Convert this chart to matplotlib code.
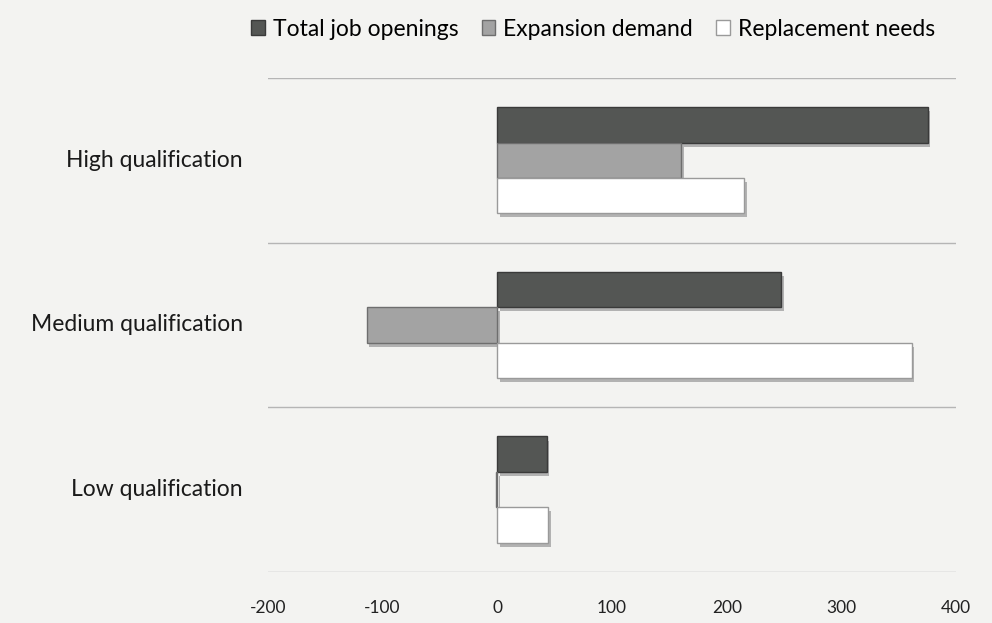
import numpy as np
import matplotlib
matplotlib.use("Agg")
import matplotlib.pyplot as plt
import matplotlib.patheffects as pe
from matplotlib.patches import Patch

categories = ["High qualification", "Medium qualification", "Low qualification"]
series = ["Total job openings", "Expansion demand", "Replacement needs"]
total_openings = [375, 247, 43]
expansion_demand = [160, -114, -1]
replacement_needs = [215, 361, 44]
x_ticks = [-200, -100, 0, 100, 200, 300, 400]

colors = ["#545654", "#a3a3a3", "#ffffff"]
edges = ["#3a3a3a", "#6e6e6e", "#9a9a9a"]
bg = "#f3f3f1"

plt.rcParams["font.family"] = ["Lato", "DejaVu Sans"]

fig = plt.figure(figsize=(9.92, 6.23), dpi=100, facecolor=bg)
ax = fig.add_axes([0.27, 0.082, 0.694, 0.793], facecolor=bg)

# categories from top to bottom
y = np.arange(len(categories))[::-1].astype(float)
h = 0.215
values = [total_openings, expansion_demand, replacement_needs]
offsets = [-h, 0, h]  # total on top within each group
shadow = [pe.SimplePatchShadow(offset=(2, -3), shadow_rgbFace="#888888", alpha=0.6), pe.Normal()]

for vals, off, c, ec in zip(values, offsets, colors, edges):
    bars = ax.barh(y - off, vals, height=h, color=c, edgecolor=ec, linewidth=1.0)
    for b in bars:
        b.set_path_effects(shadow)

ax.set_xlim(-200, 400)
ax.set_ylim(-0.5, 2.5)
ax.set_xticks(x_ticks)
ax.set_xticklabels([str(t) for t in x_ticks], fontsize=12.5, color="#222222")
ax.tick_params(axis="x", length=0, pad=20)
ax.set_yticks([])

# category separators
for b in [-0.5, 0.5, 1.5, 2.5]:
    ax.axhline(b, color="#b5b5b5", linewidth=1.0, zorder=0)

for s in ax.spines.values():
    s.set_visible(False)

trans = ax.get_yaxis_transform()
for yy, lab in zip(y, categories):
    ax.text(-0.036, yy, lab, transform=trans, ha="right", va="center",
            fontsize=16.5, color="#1a1a1a")

handles = [Patch(facecolor=c, edgecolor=ec, label=s) for s, c, ec in zip(series, colors, edges)]
fig.legend(handles=handles, loc="center", bbox_to_anchor=(0.598, 0.953), ncol=3,
           frameon=False, fontsize=16.5, handlelength=0.6, handleheight=0.6,
           handletextpad=0.35, columnspacing=1.0)

fig.savefig("out.png", dpi=100, facecolor=bg)
